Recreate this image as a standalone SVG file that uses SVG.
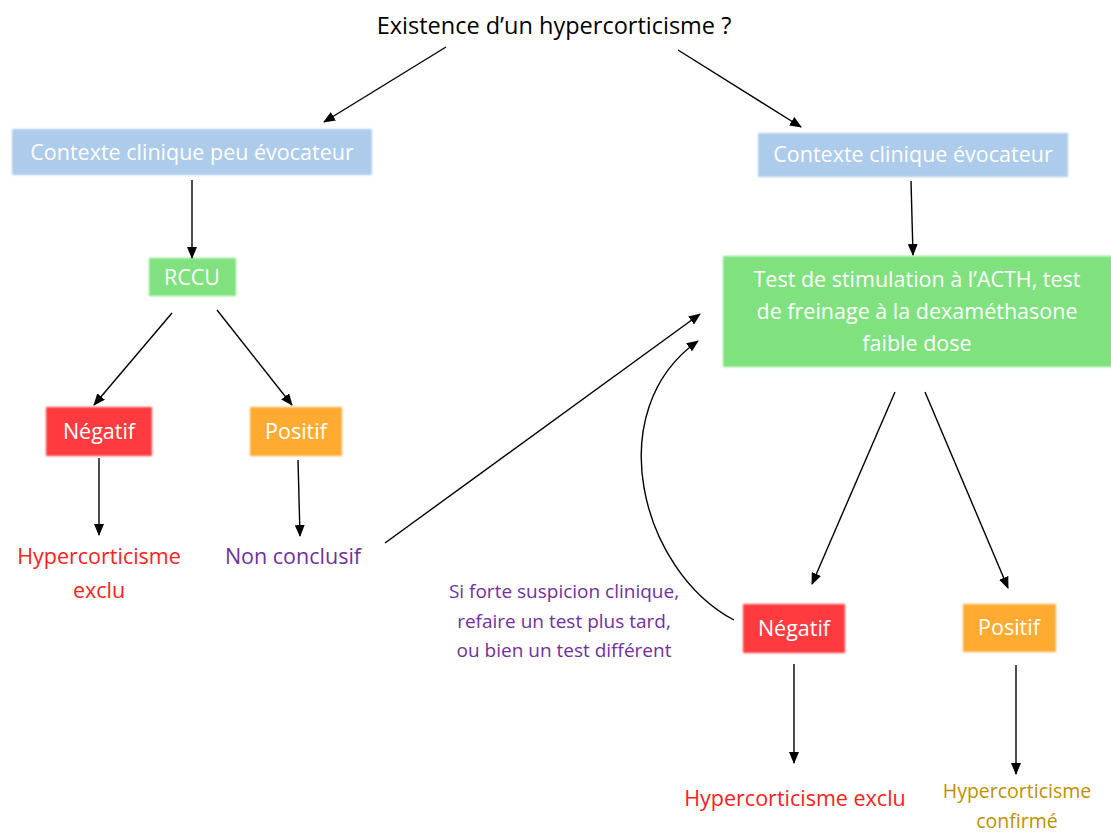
<svg xmlns="http://www.w3.org/2000/svg" width="1111" height="835" viewBox="0 0 1111 835">
<defs>
<marker id="ah" viewBox="0 0 12 10" refX="11" refY="5" markerWidth="12" markerHeight="10" markerUnits="userSpaceOnUse" orient="auto">
<path d="M0,0 L12,5 L0,10 z" fill="#000"/>
</marker>
<filter id="soft" x="-5%" y="-10%" width="110%" height="120%"><feGaussianBlur stdDeviation="1"/></filter>
</defs>
<style>
text{font-family:"Open Sans","Noto Sans",sans-serif;text-anchor:middle;}
.box{filter:url(#soft);}
.blue{fill:#adcbea;}
.green{fill:#7fe27f;}
.red{fill:#ff3b40;}
.orange{fill:#ffab33;}
.wt{fill:#fff;font-size:21.5px;}
.lbl{font-size:21.5px;}
.edge{stroke:#000;stroke-width:1.4;fill:none;marker-end:url(#ah);}
</style>
<rect width="1111" height="835" fill="#fff"/>
<g id="title"><text x="554" y="34" font-size="23.5" fill="#000">Existence d’un hypercorticisme ?</text></g>
<g id="ctx-peu"><rect class="box blue" x="12" y="129" width="360" height="46"/><text class="wt" x="192" y="160">Contexte clinique peu évocateur</text></g>
<g id="ctx-evo"><rect class="box blue" x="758" y="133" width="310" height="44"/><text class="wt" x="913" y="162">Contexte clinique évocateur</text></g>
<g id="rccu"><rect class="box green" x="149" y="258" width="87" height="38"/><text class="wt" x="192" y="285">RCCU</text></g>
<g id="test"><rect class="box green" x="723" y="256" width="390" height="111"/>
<text class="wt" x="917" y="287">Test de stimulation à l’ACTH, test</text>
<text class="wt" x="917" y="319">de freinage à la dexaméthasone</text>
<text class="wt" x="917" y="351">faible dose</text></g>
<g id="neg1"><rect class="box red" x="46" y="407" width="106" height="49"/><text class="wt" x="99" y="439">Négatif</text></g>
<g id="pos1"><rect class="box orange" x="250" y="407" width="92" height="49"/><text class="wt" x="296" y="439">Positif</text></g>
<g id="excl1"><text class="lbl" x="99" y="564" fill="#ff2020">Hypercorticisme</text><text class="lbl" x="99" y="598" fill="#ff2020">exclu</text></g>
<g id="nonc"><text class="lbl" x="293" y="564" fill="#7030a0">Non conclusif</text></g>
<g id="neg2"><rect class="box red" x="743" y="604" width="102" height="49"/><text class="wt" x="794" y="636">Négatif</text></g>
<g id="pos2"><rect class="box orange" x="963" y="604" width="93" height="48"/><text class="wt" x="1009" y="635">Positif</text></g>
<g id="excl2"><text class="lbl" x="795" y="806" fill="#ff2020">Hypercorticisme exclu</text></g>
<g id="conf"><text x="1017" y="798" font-size="19.5" fill="#bf9000">Hypercorticisme</text><text x="1017" y="828" font-size="19.5" fill="#bf9000">confirmé</text></g>
<g id="note" font-size="19" fill="#7030a0">
<text x="564" y="598">Si forte suspicion clinique,</text>
<text x="564" y="628">refaire un test plus tard,</text>
<text x="564" y="657">ou bien un test différent</text></g>
<g id="connectors">
<line class="edge" x1="446" y1="47" x2="324" y2="122"/>
<line class="edge" x1="678" y1="50" x2="801" y2="127"/>
<line class="edge" x1="192" y1="180" x2="192" y2="258"/>
<line class="edge" x1="172" y1="313" x2="94" y2="405"/>
<line class="edge" x1="217" y1="310" x2="292" y2="405"/>
<line class="edge" x1="99" y1="458" x2="99" y2="535"/>
<line class="edge" x1="298" y1="460" x2="300" y2="536"/>
<line class="edge" x1="385" y1="543" x2="700" y2="314"/>
<line class="edge" x1="911" y1="181" x2="913" y2="255"/>
<line class="edge" x1="895" y1="392" x2="812" y2="584"/>
<line class="edge" x1="925" y1="392" x2="1008" y2="588"/>
<line class="edge" x1="794" y1="664" x2="794" y2="763"/>
<line class="edge" x1="1016" y1="665" x2="1016" y2="774"/>
<path class="edge" d="M734,620 C640,570 600,410 698,341"/>
</g>
</svg>
